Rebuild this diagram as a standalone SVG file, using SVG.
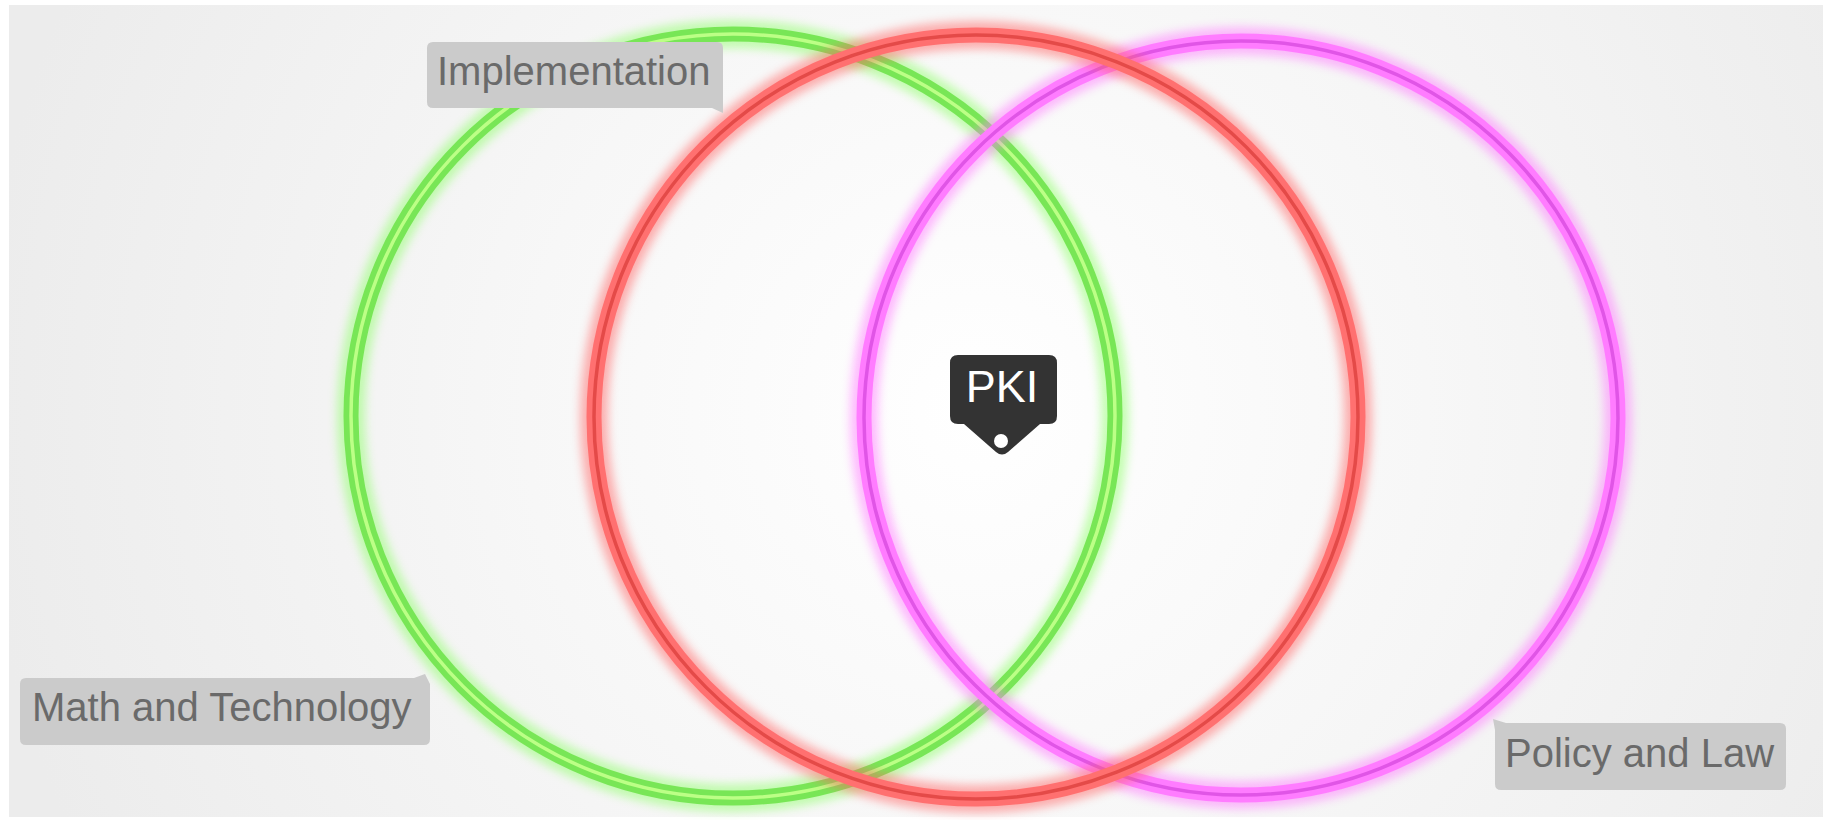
<svg xmlns="http://www.w3.org/2000/svg" width="1823" height="820" viewBox="0 0 1823 820">
  <defs>
    <radialGradient id="bg" cx="976" cy="410" r="1000" gradientUnits="userSpaceOnUse">
      <stop offset="0" stop-color="#ffffff"/>
      <stop offset="0.45" stop-color="#f7f7f7"/>
      <stop offset="1" stop-color="#ececec"/>
    </radialGradient>
    <filter id="glow" x="-20%" y="-20%" width="140%" height="140%">
      <feGaussianBlur stdDeviation="5"/>
    </filter>
    <style>
      .halo { fill: none; stroke-width: 28; opacity: 0.5; filter: url(#glow); }
      .band { fill: none; stroke-width: 15; }
      .core { fill: none; stroke-width: 3.5; }
      .lbl { fill: #cbcbcb; }
      .lbltxt { font-family: "Liberation Sans", Arial, sans-serif; font-size: 40px; fill: #6a6a6a; }
      .pki { font-family: "Liberation Sans", Arial, sans-serif; font-size: 45px; fill: #ffffff; text-anchor: middle; }
    </style>
  </defs>

  <rect x="0" y="0" width="1823" height="820" fill="#ffffff"/>
  <rect x="9" y="5" width="1814" height="812" fill="url(#bg)"/>

  <g id="rings">
    <g id="ring-green">
      <circle class="halo" cx="733" cy="416" r="382" stroke="#8cff66"/>
      <circle class="band" cx="733" cy="416" r="382" stroke="#78e656"/>
      <circle class="core" cx="733" cy="416" r="382" stroke="#bcff86"/>
    </g>
    <g id="ring-magenta">
      <circle class="halo" cx="1241" cy="418" r="377" stroke="#ff77ff"/>
      <circle class="band" cx="1241" cy="418" r="377" stroke="#ff7cff"/>
      <circle class="core" cx="1241" cy="418" r="377" stroke="#e055e6"/>
    </g>
    <g id="ring-red">
      <circle class="halo" cx="976" cy="417" r="382" stroke="#ff6464"/>
      <circle class="band" cx="976" cy="417" r="382" stroke="#ff7070"/>
      <circle class="core" cx="976" cy="417" r="382" stroke="#e44a48"/>
    </g>
  </g>

  <g id="node-implementation">
    <path class="lbl" d="M433 42 H717 Q723 42 723 48 V100 L723 113 L712 108 H433 Q427 108 427 102 V48 Q427 42 433 42 Z"/>
    <text class="lbltxt" x="437" y="85">Implementation</text>
  </g>

  <g id="node-math">
    <path class="lbl" d="M26 678 H414 L425 674 L430 684 V739 Q430 745 424 745 H26 Q20 745 20 739 V684 Q20 678 26 678 Z"/>
    <text class="lbltxt" x="32" y="721">Math and Technology</text>
  </g>

  <g id="node-policy">
    <path class="lbl" d="M1493 719 L1506 723 H1780 Q1786 723 1786 729 V784 Q1786 790 1780 790 H1501 Q1495 790 1495 784 V730 Z"/>
    <text class="lbltxt" x="1505" y="767">Policy and Law</text>
  </g>

  <g id="node-pki">
    <path fill="#333333" d="M958 355 H1049 Q1057 355 1057 363 V416 Q1057 424 1049 424 H1040 L1008 452 Q1002 457 996 452 L964 424 H958 Q950 424 950 416 V363 Q950 355 958 355 Z"/>
    <circle cx="1001" cy="441" r="7" fill="#ffffff"/>
    <text class="pki" x="1002" y="402">PKI</text>
  </g>
</svg>
